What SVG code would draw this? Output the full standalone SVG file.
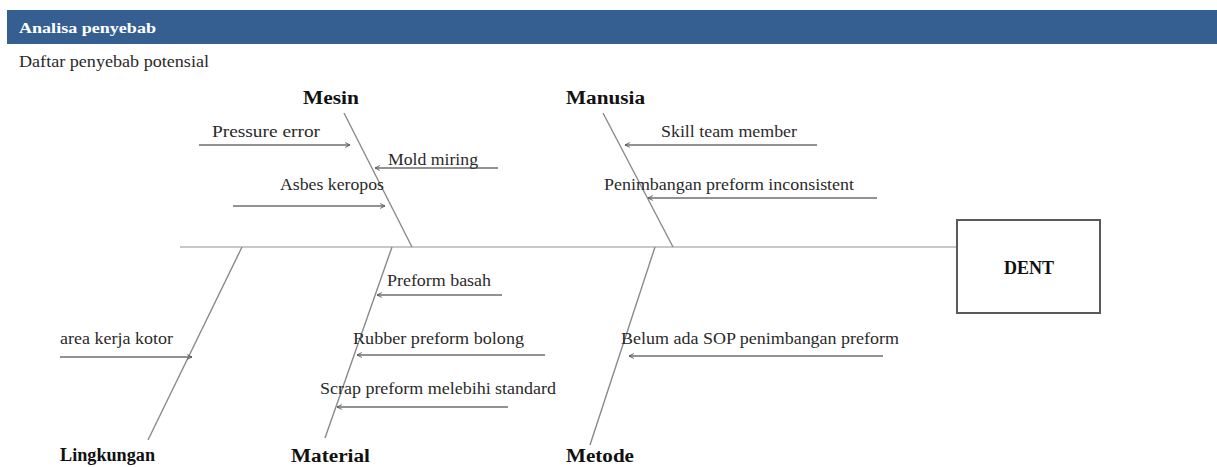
<svg xmlns="http://www.w3.org/2000/svg" width="1217" height="467" viewBox="0 0 1217 467">
<style>
.t{font-family:"Liberation Serif","Times New Roman",serif;font-size:16px;fill:#2a2a2a}
.c{font-family:"Liberation Serif","Times New Roman",serif;font-size:18px;font-weight:bold;fill:#111}
.bone{stroke:#8a8a8a;stroke-width:1.4;fill:none}
.arr{stroke:#6e6e6e;stroke-width:1.6;fill:none;marker-end:url(#ah)}
</style>
<defs>
<marker id="ah" viewBox="0 0 10 10" refX="9" refY="5" markerWidth="6" markerHeight="6" orient="auto" markerUnits="userSpaceOnUse">
<path d="M1,1 L9,5 L1,9" fill="none" stroke="#555" stroke-width="1.5"/>
</marker>
</defs>
<rect x="0" y="0" width="1217" height="467" fill="#fff"/>
<g id="header">
<rect x="7" y="10" width="1210" height="34" fill="#355f91"/>
<text x="19" y="33" font-family="'Liberation Serif',serif" font-size="15" font-weight="bold" fill="#fff" textLength="137" lengthAdjust="spacingAndGlyphs">Analisa penyebab</text>
<text x="19" y="67" class="t" font-size="15" fill="#111" textLength="190" lengthAdjust="spacingAndGlyphs">Daftar penyebab potensial</text>
</g>
<g id="connectors">
<line x1="180" y1="247" x2="957" y2="247" stroke="#c8c8c8" stroke-width="2.2"/>
<line class="bone" x1="344" y1="113" x2="412" y2="247"/>
<line class="bone" x1="603" y1="113" x2="673" y2="247"/>
<line class="bone" x1="242" y1="247" x2="148" y2="440"/>
<line class="bone" x1="392" y1="247" x2="325" y2="438"/>
<line class="bone" x1="655" y1="247" x2="590" y2="445"/>
<line class="arr" x1="199" y1="145" x2="350" y2="145"/>
<line class="arr" x1="498" y1="168" x2="375" y2="168"/>
<line class="arr" x1="233" y1="206" x2="385" y2="206"/>
<line class="arr" x1="817" y1="145" x2="625" y2="145"/>
<line class="arr" x1="877" y1="198" x2="648" y2="198"/>
<line class="arr" x1="60" y1="357" x2="192" y2="357"/>
<line class="arr" x1="502" y1="295" x2="377" y2="295"/>
<line class="arr" x1="545" y1="355" x2="357" y2="355"/>
<line class="arr" x1="508" y1="407" x2="337" y2="407"/>
<line class="arr" x1="883" y1="356" x2="629" y2="356"/>
</g>
<g id="effect">
<rect x="957" y="220" width="143" height="93" fill="#fff" stroke="#5a5a5a" stroke-width="2"/>
<text x="1029" y="274" class="c" text-anchor="middle" font-size="17">DENT</text>
</g>
<g id="mesin">
<text x="303" y="104" class="c" textLength="56" lengthAdjust="spacingAndGlyphs">Mesin</text>
<text x="212" y="137" class="t" textLength="108" lengthAdjust="spacingAndGlyphs">Pressure error</text>
<text x="388" y="165" class="t" textLength="90" lengthAdjust="spacingAndGlyphs">Mold miring</text>
<text x="280" y="190" class="t" textLength="104" lengthAdjust="spacingAndGlyphs">Asbes keropos</text>
</g>
<g id="manusia">
<text x="566" y="104" class="c" textLength="79" lengthAdjust="spacingAndGlyphs">Manusia</text>
<text x="661" y="137" class="t" textLength="136" lengthAdjust="spacingAndGlyphs">Skill team member</text>
<text x="604" y="190" class="t" textLength="250" lengthAdjust="spacingAndGlyphs">Penimbangan preform inconsistent</text>
</g>
<g id="lingkungan">
<text x="60" y="461" class="c" font-size="15" textLength="95" lengthAdjust="spacingAndGlyphs">Lingkungan</text>
<text x="60" y="344" class="t" textLength="113" lengthAdjust="spacingAndGlyphs">area kerja kotor</text>
</g>
<g id="material">
<text x="291" y="462" class="c" textLength="79" lengthAdjust="spacingAndGlyphs">Material</text>
<text x="387" y="286" class="t" textLength="104" lengthAdjust="spacingAndGlyphs">Preform basah</text>
<text x="353" y="344" class="t" textLength="171" lengthAdjust="spacingAndGlyphs">Rubber preform bolong</text>
<text x="320" y="394" class="t" textLength="236" lengthAdjust="spacingAndGlyphs">Scrap preform melebihi standard</text>
</g>
<g id="metode">
<text x="566" y="462" class="c" textLength="68" lengthAdjust="spacingAndGlyphs">Metode</text>
<text x="621" y="344" class="t" textLength="278" lengthAdjust="spacingAndGlyphs">Belum ada SOP penimbangan preform</text>
</g>
</svg>
